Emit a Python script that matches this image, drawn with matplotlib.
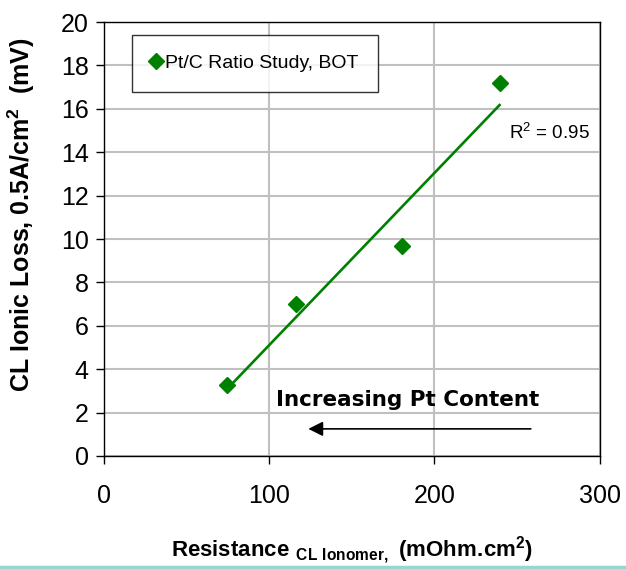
import matplotlib.pyplot as plt
from matplotlib.lines import Line2D
import numpy as np

plt.rcParams['font.family'] = ['Liberation Sans', 'DejaVu Sans']
plt.rcParams['mathtext.fontset'] = 'custom'
plt.rcParams['mathtext.rm'] = 'Liberation Sans'
plt.rcParams['mathtext.bf'] = 'Liberation Sans:bold'

# data
resistance = [74.5, 116, 180.6, 239.4]
ionic_loss = [3.27, 7.0, 9.68, 17.19]
series_name = 'Pt/C Ratio Study, BOT'
x_ticks = [0, 100, 200, 300]
y_ticks = [0, 2, 4, 6, 8, 10, 12, 14, 16, 18, 20]

green = '#008000'

fig = plt.figure(figsize=(6.26, 5.69), dpi=100)
ax = fig.add_axes([0.166, 0.1986, 0.792, 0.7627])

ax.plot(resistance, ionic_loss, linestyle='none', marker='D', markersize=8,
        color=green, label=series_name, zorder=3)

# linear trendline
x = np.array(resistance)
y = np.array(ionic_loss)
slope, intercept = np.polyfit(x, y, 1)
xl = np.array([x.min(), x.max()])
ax.plot(xl, slope * xl + intercept, color=green, linewidth=1.9, zorder=2)
r2 = np.corrcoef(x, y)[0, 1] ** 2

ax.set_xlim(0, 300)
ax.set_ylim(0, 20)
ax.set_xticks(x_ticks)
ax.set_yticks(y_ticks)
ax.tick_params(labelsize=18, length=6, width=1, direction='out', pad=14)
ax.tick_params(axis='y', pad=5)
ax.grid(True, color='#c0c0c0', linewidth=1.5)
ax.set_axisbelow(True)
for s in ax.spines.values():
    s.set_color('black')
    s.set_linewidth(1)

ax.set_ylabel(r'CL Ionic Loss, 0.5A/cm$\mathbf{^2}$  (mV)', fontsize=18,
              fontweight='bold')
ax.yaxis.set_label_coords(-0.135, 0.557)
ax.set_xlabel(r'$\mathbf{Resistance}\ {}_{\mathbf{CL\ Ionomer,}}\ '
              r'\mathbf{(mOhm.}\!\mathbf{cm^2)}$',
              fontsize=16, labelpad=19)

ax.text(245, 14.6, 'R$^2$ = %.2f' % r2, fontsize=13.5)

ax.text(184, 2.6, 'Increasing Pt Content', fontsize=15.5, fontweight='bold',
        family='DejaVu Sans', ha='center', va='center')
ax.annotate('', xy=(122, 1.25), xytext=(260, 1.25),
            arrowprops=dict(arrowstyle='-|>', color='black', lw=1.2,
                            mutation_scale=22))

leg = ax.legend(loc='upper left', bbox_to_anchor=(0.057, 0.97), fontsize=14,
                frameon=True, fancybox=False, edgecolor='black',
                handlelength=0.5, handletextpad=0.2, borderpad=1.0,
                borderaxespad=0)
leg.get_frame().set_linewidth(1)

fig.add_artist(Line2D([0, 1], [0.004, 0.004], transform=fig.transFigure,
                      color='#99d5d0', linewidth=2.5))

fig.savefig('out.png', dpi=100)
